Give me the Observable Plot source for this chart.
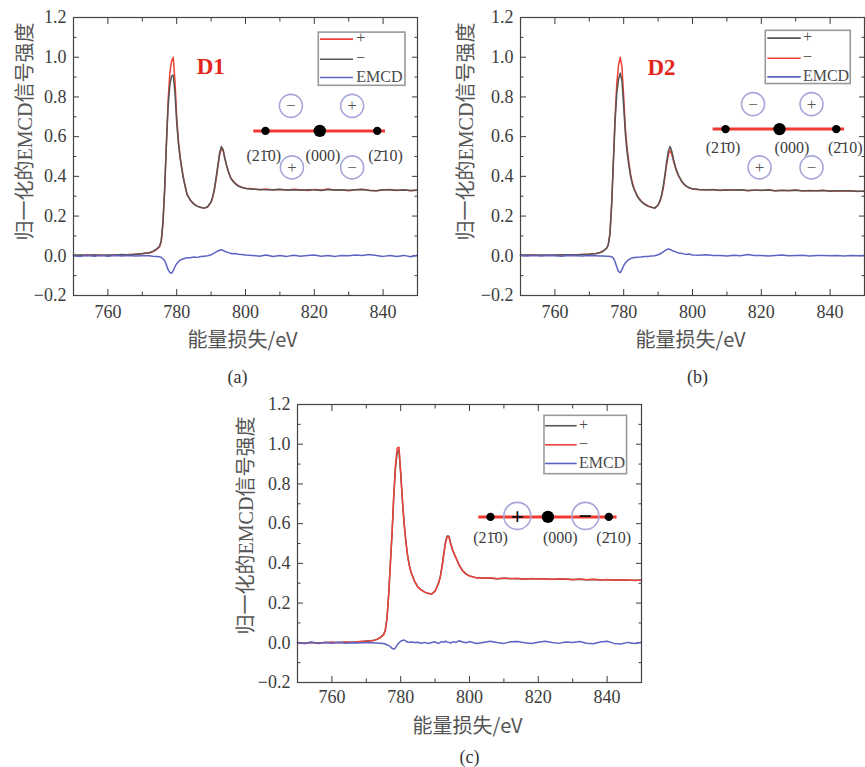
<!DOCTYPE html>
<html><head><meta charset="utf-8">
<script src="https://cdn.jsdelivr.net/npm/d3@7"></script>
<script src="https://cdn.jsdelivr.net/npm/@observablehq/plot@0.6"></script>
<style>
html,body{margin:0;padding:0;background:#fff;overflow:hidden;width:865px;height:767px}
#root{position:relative;width:865px;height:767px;overflow:hidden}
.panel{position:absolute}
</style></head><body><div id="root"></div>
<script>
// ---------- data ----------
const energy = [750,752,754,756,758,760,762,764,766,768,770,772,
  773,774,775,
  775.5,776,776.5,777,777.5,778,778.5,779,779.5,780,780.5,781,781.5,782,782.5,783,
  784,785,786,787,788,789,790,790.5,791,791.5,792,792.5,793,793.5,794,794.5,795,795.5,796,797,798,799,800,
  802,804,806,808,810,812,814,816,818,820,822,824,826,828,830,832,834,836,838,840,842,844,846,848,850];

// panel (a): "+" red, "−" gray
const aPlus = [0.004,0.002,0.005,0.001,0.004,0.002,0.005,0.003,0.006,0.007,0.010,0.014,
  0.020,0.030,0.045,
  0.07,0.16,0.33,0.56,0.78,0.92,0.98,1.0,0.88,0.70,0.58,0.50,0.44,0.39,0.35,0.31,
  0.28,0.262,0.25,0.244,0.24,0.246,0.27,0.295,0.335,0.39,0.45,0.51,0.54,0.53,0.49,0.455,0.425,0.40,0.385,0.365,0.352,0.345,0.34,
  0.337,0.333,0.336,0.331,0.334,0.33,0.335,0.332,0.329,0.334,0.331,0.336,0.33,0.333,0.328,0.332,0.335,0.33,0.327,0.331,0.334,0.329,0.332,0.328,0.331];
const aMinus = [0.003,0.004,0.002,0.005,0.002,0.004,0.003,0.006,0.004,0.008,0.011,0.015,
  0.022,0.032,0.048,
  0.075,0.17,0.34,0.56,0.75,0.86,0.905,0.91,0.82,0.67,0.565,0.49,0.435,0.385,0.345,0.308,
  0.279,0.26,0.249,0.243,0.24,0.247,0.272,0.30,0.342,0.40,0.46,0.52,0.55,0.535,0.49,0.455,0.425,0.40,0.383,0.363,0.35,0.344,0.339,
  0.335,0.334,0.333,0.332,0.335,0.331,0.333,0.33,0.332,0.333,0.329,0.334,0.331,0.332,0.33,0.333,0.334,0.329,0.328,0.332,0.333,0.33,0.331,0.329,0.33];
const aEmcd = [0.0,-0.003,0.002,-0.002,0.001,-0.002,0.002,-0.001,0.001,-0.001,0.0,0.0,
  -0.002,-0.003,-0.005,
  -0.008,-0.015,-0.025,-0.045,-0.07,-0.085,-0.088,-0.075,-0.055,-0.04,-0.03,-0.022,-0.018,-0.015,-0.012,-0.01,
  -0.01,-0.006,-0.008,-0.004,-0.002,0.0,0.005,0.01,0.015,0.02,0.025,0.028,0.03,0.027,0.022,0.02,0.016,0.014,0.01,0.012,0.008,0.006,0.004,
  0.002,-0.002,0.004,-0.004,0.001,-0.003,0.003,-0.002,0.002,0.004,-0.002,0.001,-0.003,0.002,0.0,0.004,0.002,0.006,0.001,-0.003,0.002,-0.004,0.002,-0.005,0.003];

// panel (b): "+" gray, "−" red
const bPlus = [0.003,0.004,0.003,0.004,0.003,0.004,0.004,0.005,0.004,0.006,0.008,0.011,
  0.015,0.023,0.037,
  0.054,0.11,0.26,0.47,0.68,0.82,0.89,0.92,0.88,0.75,0.61,0.52,0.455,0.40,0.362,0.335,
  0.297,0.275,0.26,0.25,0.244,0.24,0.256,0.275,0.305,0.35,0.41,0.475,0.53,0.55,0.525,0.485,0.45,0.425,0.403,0.372,0.353,0.343,0.337,
  0.334,0.332,0.333,0.33,0.331,0.331,0.332,0.329,0.33,0.33,0.331,0.328,0.329,0.329,0.33,0.327,0.328,0.328,0.329,0.326,0.327,0.327,0.326,0.325,0.325];
const bMinus = [0.004,0.003,0.005,0.002,0.004,0.003,0.005,0.004,0.005,0.007,0.009,0.012,
  0.016,0.024,0.038,
  0.055,0.11,0.26,0.48,0.70,0.87,0.96,1.0,0.95,0.80,0.64,0.54,0.47,0.41,0.37,0.34,
  0.30,0.277,0.262,0.252,0.245,0.24,0.255,0.272,0.30,0.34,0.40,0.46,0.51,0.53,0.51,0.475,0.445,0.42,0.40,0.37,0.352,0.342,0.336,
  0.333,0.331,0.334,0.329,0.332,0.33,0.333,0.328,0.331,0.329,0.332,0.327,0.33,0.328,0.331,0.326,0.329,0.327,0.33,0.325,0.328,0.326,0.327,0.324,0.326];
const bEmcd = [0.001,-0.001,0.002,-0.001,0.001,0.0,-0.002,0.001,0.0,-0.001,0.001,0.0,
  -0.001,-0.001,-0.002,
  -0.002,-0.003,-0.005,-0.012,-0.03,-0.058,-0.08,-0.085,-0.07,-0.05,-0.036,-0.026,-0.019,-0.014,-0.011,-0.009,
  -0.007,-0.006,-0.004,-0.003,-0.001,0.0,0.005,0.009,0.014,0.02,0.026,0.031,0.034,0.032,0.027,0.024,0.02,0.017,0.014,0.012,0.007,0.009,0.004,
  0.003,0.005,0.001,0.002,-0.001,0.003,0.0,0.006,0.001,0.002,-0.001,0.002,0.004,0.0,0.002,0.003,-0.001,0.002,0.001,0.0,0.002,-0.001,0.001,0.0,0.001];

// panel (c): "+" gray, "−" red
const cPlus = [0.002,-0.002,0.003,-0.001,0.002,0.002,0.001,0.003,0.003,0.005,0.009,0.011,
  0.017,0.026,0.041,
  0.062,0.122,0.242,0.40,0.555,0.74,0.885,0.96,0.97,0.85,0.715,0.598,0.51,0.44,0.39,0.356,
  0.311,0.281,0.266,0.255,0.249,0.246,0.261,0.281,0.302,0.333,0.385,0.447,0.505,0.538,0.536,0.502,0.472,0.45,0.431,0.392,0.363,0.347,0.337,
  0.327,0.326,0.325,0.323,0.324,0.324,0.323,0.321,0.322,0.322,0.321,0.32,0.32,0.321,0.319,0.32,0.318,0.319,0.317,0.318,0.316,0.317,0.315,0.315,0.315];
const cMinus = [0.0,-0.004,0.002,-0.003,0.001,0.003,0.0,0.004,0.002,0.006,0.008,0.012,
  0.016,0.025,0.04,
  0.06,0.12,0.24,0.40,0.56,0.75,0.90,0.98,0.985,0.86,0.72,0.60,0.51,0.44,0.39,0.355,
  0.31,0.28,0.265,0.255,0.248,0.245,0.26,0.28,0.30,0.33,0.38,0.44,0.50,0.535,0.535,0.50,0.47,0.45,0.43,0.39,0.362,0.346,0.336,
  0.328,0.325,0.327,0.322,0.326,0.323,0.325,0.32,0.324,0.321,0.323,0.319,0.322,0.32,0.318,0.321,0.317,0.32,0.316,0.319,0.315,0.318,0.316,0.314,0.316];
const cEmcd = [0.002,-0.004,0.003,-0.003,0.001,-0.002,0.003,-0.002,0.0,-0.001,0.002,0.0,
  -0.001,-0.002,-0.004,
  -0.006,-0.01,-0.014,-0.02,-0.028,-0.032,-0.025,-0.01,0.0,0.008,0.012,0.014,0.008,0.004,0.002,0.004,
  0.001,0.003,-0.002,0.002,-0.004,0.001,0.005,0.0,-0.003,0.002,0.006,0.003,0.008,0.004,0.002,-0.002,0.003,0.006,0.002,0.01,0.004,0.0,0.006,
  -0.004,0.002,0.008,0.001,-0.003,0.005,0.007,0.0,-0.004,0.003,0.008,0.002,-0.003,0.004,0.001,0.006,-0.002,-0.005,0.004,0.008,-0.003,-0.006,0.002,-0.004,0.003];

// axis ticks and labels
const xMajor = [760,780,800,820,840];
const xMinor = [750,770,790,810,830,850];
const yMajor = [-0.2,0,0.2,0.4,0.6,0.8,1.0,1.2];
const yMinor = [-0.1,0.1,0.3,0.5,0.7,0.9,1.1];
const legendLabels = ["+", "\u2212", "EMCD"];
const millerLabels = ["(21\u03040)", "(000)", "(2\u030410)"];
const xTitle = "能量损失/eV";
const yTitle = "归一化的EMCD信号强度";

// ---------- styles ----------
const RED = "#ee4238", GRAY = "#555555", BLUE = "#5c63c2";
const serif = "'Liberation Serif', 'Times New Roman', serif";
const mixed = "'Liberation Serif', 'Noto Sans CJK SC', serif";

function series(arr){ return energy.map((e,i)=>({e, v: arr[i]})).filter(d=>d.v!=null); }

function makePanel(p){
  const marks = [];
  // axes with inward ticks
  marks.push(
    Plot.axisX(xMajor, {anchor:"bottom", tickSize:-6, tickPadding:p.xtp, tickFormat:d=>String(d), fontSize:18, fontFamily:serif, color:"#3c3c3c", label:null}),
    Plot.axisX(xMinor, {anchor:"bottom", tickSize:-3.5, tickFormat:()=>"", color:"#3c3c3c", label:null}),
    Plot.axisX(xMajor, {anchor:"top", tickSize:-6, tickFormat:()=>"", color:"#3c3c3c", label:null}),
    Plot.axisX(xMinor, {anchor:"top", tickSize:-3.5, tickFormat:()=>"", color:"#3c3c3c", label:null}),
    Plot.axisY(yMajor, {anchor:"left", tickSize:-6, tickPadding:13, tickFormat:d3.format(".1f"), fontSize:18, fontFamily:serif, color:"#3c3c3c", label:null}),
    Plot.axisY(yMinor, {anchor:"left", tickSize:-3.5, tickFormat:()=>"", color:"#3c3c3c", label:null}),
    Plot.axisY(yMajor, {anchor:"right", tickSize:-6, tickFormat:()=>"", color:"#3c3c3c", label:null}),
    Plot.axisY(yMinor, {anchor:"right", tickSize:-3.5, tickFormat:()=>"", color:"#3c3c3c", label:null})
  );
  // spectra
  for (const s of p.lines) marks.push(Plot.line(series(s.data), {x:"e", y:"v", stroke:s.color, strokeWidth:1.5}));
  // legend
  const L = p.legend;
  marks.push(Plot.rect([L], {x1:"x1", x2:"x2", y1:"y1", y2:"y2", fill:"white", stroke:"#9a9a9a", strokeWidth:1.6}));
  const legRows = legendLabels.map((t,i)=>({t, y:L.rows[i], c:L.colors[i]}));
  marks.push(Plot.ruleY(legRows, {y:"y", x1:L.lx1, x2:L.lx2, stroke:"c", strokeWidth:1.6}));
  marks.push(Plot.text(legRows, {x:L.tx, y:"y", text:"t", textAnchor:"start", fontSize:16, fontFamily:serif, fill:"#4a4a4a", dy:-1}));
  // inset diagram
  const I = p.inset;
  marks.push(Plot.ruleY([I.barY], {y:d=>d, x1:I.bx1, x2:I.bx2, stroke:"#f03a30", strokeWidth:3}));
  marks.push(Plot.dot(I.circles, {x:"e", y:"v", r:I.cr, stroke:"#a6a6da", strokeWidth:1.6, fill:"none"}));
  marks.push(Plot.text(I.circles, {x:"e", y:"v", text:"s", fontSize:I.signSize, fontWeight:I.signWeight, fontFamily:serif, fill:I.signColor}));
  marks.push(Plot.dot(I.small, {x:d=>d, y:()=>I.barY, r:4.2, fill:"black"}));
  marks.push(Plot.dot([I.big], {x:d=>d, y:()=>I.barY, r:6.2, fill:"black"}));
  marks.push(Plot.text(millerLabels.map((t,i)=>({t, e:I.lx[i]})), {x:"e", y:()=>I.ly, text:"t", fontSize:16, fontFamily:serif, fill:"#3c3c3c"}));
  if (p.tag) marks.push(Plot.text([p.tag], {x:"e", y:"v", text:"t", fontSize:23, fontWeight:"bold", fontFamily:serif, fill:"#e2261c"}));
  // titles
  marks.push(Plot.text([xTitle], {frameAnchor:"bottom", lineAnchor:"middle", textAnchor:"middle", dx:p.xtDx, dy:p.xtDy, text:d=>d, fontSize:20, fontFamily:"'Noto Sans CJK SC', sans-serif", fill:"#555"}));
  marks.push(Plot.text([yTitle], {frameAnchor:"left", textAnchor:"middle", lineAnchor:"middle", dx:p.ytDx, dy:p.ytDy, rotate:-90, text:d=>d, fontSize:20, fontFamily:mixed, fill:"#555"}));
  marks.push(Plot.text([p.caption], {frameAnchor:"bottom", lineAnchor:"middle", textAnchor:"middle", dx:p.capDx, dy:p.capDy, text:d=>d, fontSize:18, fontFamily:serif, fill:"#333"}));
  marks.push(Plot.frame({stroke:"#444", strokeWidth:1.2}));
  return Plot.plot({
    width:p.width, height:p.height,
    marginLeft:73, marginRight:p.mr, marginTop:17, marginBottom:p.mb,
    x:{domain:[750,850]}, y:{domain:[-0.2,1.2]},
    style:{background:"transparent", overflow:"visible", fontFamily:serif},
    marks
  });
}

const panels = [
  { left:0, top:0, width:427, height:390, mr:10, mb:95, xtp:16,
    lines:[{data:aPlus, color:RED},{data:aMinus, color:GRAY},{data:aEmcd, color:BLUE}],
    legend:{x1:821.3,x2:846.5,y1:0.856,y2:1.124, rows:[1.091,0.990,0.898], colors:[RED,GRAY,BLUE], lx1:821.8, lx2:831.4, tx:832.2},
    inset:{barY:0.629, bx1:802.4, bx2:840.7, small:[805.8,838.3], big:821.6,
      circles:[{e:813.2,v:0.755,s:"\u2212"},{e:831.0,v:0.755,s:"+"},{e:813.5,v:0.445,s:"+"},{e:831.0,v:0.445,s:"\u2212"}],
      cr:11.5, signSize:17, signWeight:"normal", signColor:"#555", lx:[805.3,822.5,840.7], ly:0.504},
    tag:{e:789.9, v:0.954, t:"D1"},
    xtDx:-3, xtDy:45, ytDx:-48, ytDy:-25, caption:"(a)", capDx:-8, capDy:82 },
  { left:447, top:0, width:418, height:390, mr:1, mb:95, xtp:16,
    lines:[{data:bMinus, color:RED},{data:bPlus, color:GRAY},{data:bEmcd, color:BLUE}],
    legend:{x1:821.3,x2:846.0,y1:0.865,y2:1.133, rows:[1.096,0.995,0.901], colors:[GRAY,RED,BLUE], lx1:821.9, lx2:831.6, tx:832.1},
    inset:{barY:0.638, bx1:806.0, bx2:844.2, small:[809.6,841.8], big:825.3,
      circles:[{e:817.6,v:0.764,s:"\u2212"},{e:834.6,v:0.764,s:"+"},{e:819.5,v:0.445,s:"+"},{e:834.6,v:0.445,s:"\u2212"}],
      cr:11.5, signSize:17, signWeight:"normal", signColor:"#555", lx:[808.9,828.9,844.4], ly:0.545},
    tag:{e:791.0, v:0.949, t:"D2"},
    xtDx:-2, xtDy:45, ytDx:-54, ytDy:-25, caption:"(b)", capDx:5, capDy:82 },
  { left:224, top:387, width:427, height:380, mr:10, mb:85, xtp:14,
    lines:[{data:cPlus, color:GRAY},{data:cMinus, color:RED},{data:cEmcd, color:BLUE}],
    legend:{x1:821.8,x2:845.8,y1:0.849,y2:1.143, rows:[1.093,0.997,0.903], colors:[GRAY,RED,BLUE], lx1:822.1, lx2:831.3, tx:831.8},
    inset:{barY:0.634, bx1:802.7, bx2:842.9, small:[806.1,840.5], big:822.8,
      circles:[{e:813.9,v:0.639,s:"+"},{e:833.7,v:0.639,s:"\u2212"}],
      cr:13.5, signSize:24, signWeight:"bold", signColor:"#111", lx:[806.1,826.4,841.9], ly:0.530},
    tag:null,
    xtDx:-2, xtDy:44, ytDx:-51, ytDy:-18, caption:"(c)", capDx:0, capDy:75 }
];

const root = document.getElementById("root");
for (const p of panels){
  const el = makePanel(p);
  const wrap = document.createElement("div");
  wrap.className = "panel";
  wrap.style.left = p.left + "px";
  wrap.style.top = p.top + "px";
  wrap.appendChild(el);
  root.appendChild(wrap);
}
</script></body></html>
